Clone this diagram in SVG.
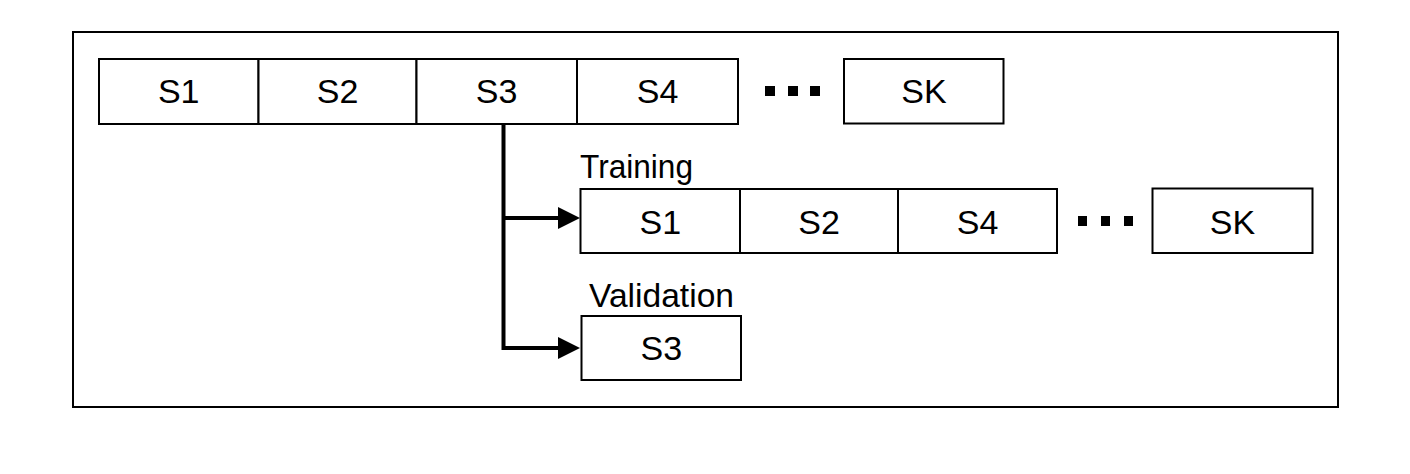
<svg xmlns="http://www.w3.org/2000/svg" width="1410" height="474" viewBox="0 0 1410 474">
<style>
.box{fill:#fff;stroke:#000;stroke-width:2}
.lbl{font-family:"Liberation Sans",Arial,sans-serif;font-size:34px;fill:#000;text-anchor:middle}
.cap{font-family:"Liberation Sans",Arial,sans-serif;font-size:33px;fill:#000}
.dot{fill:#000}
.conn{fill:none;stroke:#000;stroke-width:4}
</style>
<rect width="1410" height="474" fill="#fff"/>
<rect id="frame" x="73" y="32" width="1265" height="375" fill="none" stroke="#000" stroke-width="2"/>
<g id="top-row">
  <g id="top-s1"><rect class="box" x="99" y="59" width="159.5" height="65"/><text class="lbl" x="178.7" y="103">S1</text></g>
  <g id="top-s2"><rect class="box" x="258.5" y="59" width="158" height="65"/><text class="lbl" x="337.5" y="103">S2</text></g>
  <g id="top-s3"><rect class="box" x="416.5" y="59" width="160.5" height="65"/><text class="lbl" x="496.5" y="103">S3</text></g>
  <g id="top-s4"><rect class="box" x="577" y="59" width="161" height="65"/><text class="lbl" x="657.5" y="103">S4</text></g>
  <g id="top-dots"><rect class="dot" x="765" y="86" width="10" height="10"/><rect class="dot" x="788" y="86" width="10" height="10"/><rect class="dot" x="810" y="86" width="10" height="10"/></g>
  <g id="top-sk"><rect class="box" x="844" y="59" width="159.5" height="64.5"/><text class="lbl" x="924" y="103">SK</text></g>
</g>
<g id="connectors">
  <path class="conn" d="M503.5 124 V348 H560 M503.5 218 H560"/>
  <polygon points="558,207 580,218 558,229"/>
  <polygon points="558,337 580,348 558,359"/>
</g>
<g id="training">
  <text class="cap" x="580" y="178" textLength="113" lengthAdjust="spacingAndGlyphs">Training</text>
  <g id="tr-s1"><rect class="box" x="580.5" y="189" width="159.5" height="64"/><text class="lbl" x="660.3" y="234">S1</text></g>
  <g id="tr-s2"><rect class="box" x="740" y="189" width="158" height="64"/><text class="lbl" x="819" y="234">S2</text></g>
  <g id="tr-s4"><rect class="box" x="898" y="189" width="159" height="64"/><text class="lbl" x="977.5" y="234">S4</text></g>
  <g id="tr-dots"><rect class="dot" x="1078" y="216" width="9" height="10"/><rect class="dot" x="1101" y="216" width="9" height="10"/><rect class="dot" x="1124" y="216" width="9" height="10"/></g>
  <g id="tr-sk"><rect class="box" x="1152.5" y="188.5" width="160" height="64.5"/><text class="lbl" x="1232.5" y="234">SK</text></g>
</g>
<g id="validation">
  <text class="cap" x="589" y="307" textLength="145" lengthAdjust="spacingAndGlyphs">Validation</text>
  <g id="val-s3"><rect class="box" x="581.5" y="316" width="159.5" height="64"/><text class="lbl" x="661.3" y="360">S3</text></g>
</g>
</svg>
